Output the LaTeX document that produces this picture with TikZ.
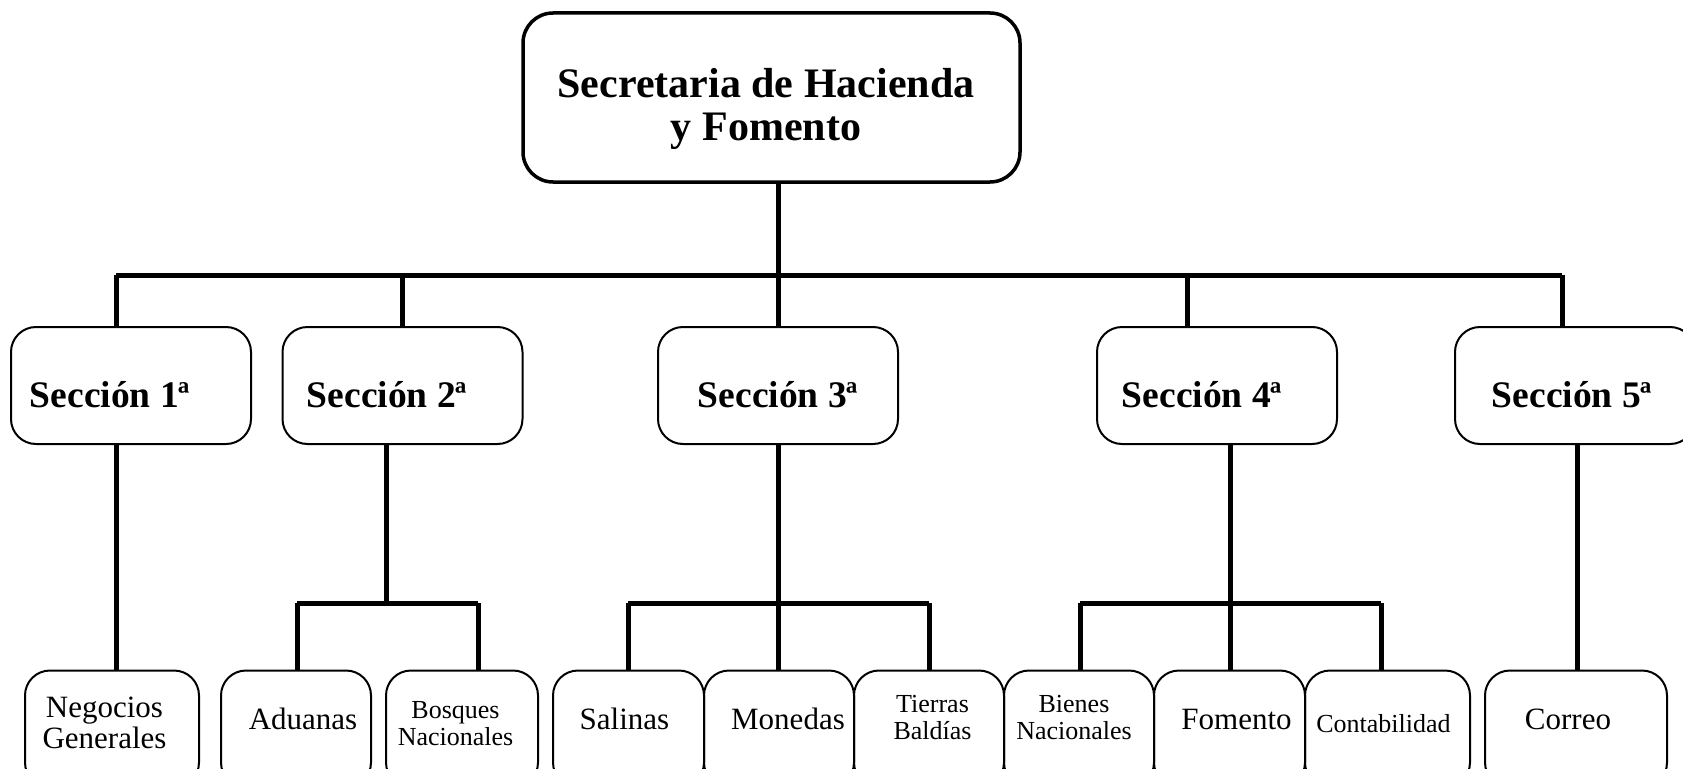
\documentclass[tikz,border=0pt]{standalone}
\usepackage{fontspec}
\setmainfont{Liberation Serif}
\usetikzlibrary{calc}
\begin{document}
\begin{tikzpicture}[x=1pt,y=-1pt,
  conn/.style={line width=5pt},
  topbox/.style={draw, line width=3.5pt, rounded corners=30pt, minimum width=497pt, minimum height=169pt, inner sep=0pt},
  secbox/.style={draw, line width=2pt, rounded corners=25pt, minimum width=240pt, minimum height=117pt, inner sep=0pt},
  subbox/.style={draw, line width=2pt, rounded corners=25pt, minimum height=117pt, inner sep=0pt},
  ttl/.style={font=\fontsize{42}{43}\selectfont\bfseries, align=center, inner sep=0pt},
  sect/.style={font=\fontsize{37.5}{38}\selectfont\bfseries, inner sep=0pt},
  big/.style={font=\fontsize{31}{31}\selectfont, align=center, inner sep=0pt},
  small/.style={font=\fontsize{26}{27}\selectfont, align=center, inner sep=0pt}]
\useasboundingbox (0,0) rectangle (1683,768);
\clip (0,0) rectangle (1683,768);
% top
\node[topbox] (top) at (771.5,97.5) {};
\node[ttl] (topt) at (766,108.5) {Secretaria de Hacienda\\y Fomento};
% sections
\node[secbox] (s1) at (131,385.5) {};
\node[secbox] (s2) at (402.5,385.5) {};
\node[secbox] (s3) at (778,385.5) {};
\node[secbox] (s4) at (1217,385.5) {};
\node[secbox] (s5) at (1575,385.5) {};
\node[sect] (s1t) at (110,395) {Sección 1ª};
\node[sect] (s2t) at (387,395) {Sección 2ª};
\node[sect] (s3t) at (778,395) {Sección 3ª};
\node[sect] (s4t) at (1202,395) {Sección 4ª};
\node[sect] (s5t) at (1572,395) {Sección 5ª};
% bottom boxes
\node[subbox, minimum width=174pt] (neg) at (112,729) {};
\node[subbox, minimum width=150pt] (adu) at (296,729) {};
\node[subbox, minimum width=152pt] (bos) at (462,729) {};
\node[subbox, minimum width=151pt] (sal) at (628.5,729) {};
\node[subbox, minimum width=150pt] (mon) at (779,729) {};
\node[subbox, minimum width=150pt] (tie) at (929,729) {};
\node[subbox, minimum width=150pt] (bie) at (1079,729) {};
\node[subbox, minimum width=151pt] (fom) at (1229.5,729) {};
\node[subbox, minimum width=165pt] (con) at (1387.5,729) {};
\node[subbox, minimum width=182pt] (cor) at (1576,729) {};
\node[big] (negt) at (104.5,722.5) {Negocios\\Generales};
\node[big] (adut) at (303,719) {Aduanas};
\node[small] (bost) at (455.5,724) {Bosques\\Nacionales};
\node[big] (salt) at (624.5,719) {Salinas};
\node[big] (mont) at (788,719) {Monedas};
\node[small] (tiet) at (932.5,717.5) {Tierras\\Baldías};
\node[small] (biet) at (1074,717.5) {Bienes\\Nacionales};
\node[big] (fomt) at (1236.5,719) {Fomento};
\node[small] (cont) at (1383.5,724) {Contabilidad};
\node[big] (cort) at (1568,719) {Correo};
% upper connectors
\coordinate (bus) at (778,275);
\coordinate (busL) at (116,275);
\coordinate (busR) at (1562,275);
\coordinate (b2) at (402,275);
\coordinate (b4) at (1187,275);
\draw[conn] (top.south -| bus) -- (bus);
\draw[conn] (busL) -- (busR);
\draw[conn] (busL) -- (busL |- s1.north);
\draw[conn] (b2) -- (b2 |- s2.north);
\draw[conn] (bus) -- (bus |- s3.north);
\draw[conn] (b4) -- (b4 |- s4.north);
\draw[conn] (busR) -- (busR |- s5.north);
% lower connectors
\coordinate (d1) at (116,444);
\draw[conn] (d1 |- s1.south) -- (d1 |- neg.north);
\coordinate (j2) at (386,603);
\coordinate (j2l) at (297,603);
\coordinate (j2r) at (478,603);
\draw[conn] (j2 |- s2.south) -- (j2);
\draw[conn] (j2l) -- (j2r);
\draw[conn] (j2l) -- (j2l |- adu.north);
\draw[conn] (j2r) -- (j2r |- bos.north);
\coordinate (j3) at (778,603);
\coordinate (j3l) at (628,603);
\coordinate (j3r) at (929,603);
\draw[conn] (s3.south) -- (j3 |- mon.north);
\draw[conn] (j3l) -- (j3r);
\draw[conn] (j3l) -- (j3l |- sal.north);
\draw[conn] (j3r) -- (j3r |- tie.north);
\coordinate (j4) at (1230,603);
\coordinate (j4l) at (1080,603);
\coordinate (j4r) at (1381,603);
\draw[conn] (j4 |- s4.south) -- (j4 |- fom.north);
\draw[conn] (j4l) -- (j4r);
\draw[conn] (j4l) -- (j4l |- bie.north);
\draw[conn] (j4r) -- (j4r |- con.north);
\coordinate (d5) at (1577,444);
\draw[conn] (d5 |- s5.south) -- (d5 |- cor.north);
\end{tikzpicture}
\end{document}
